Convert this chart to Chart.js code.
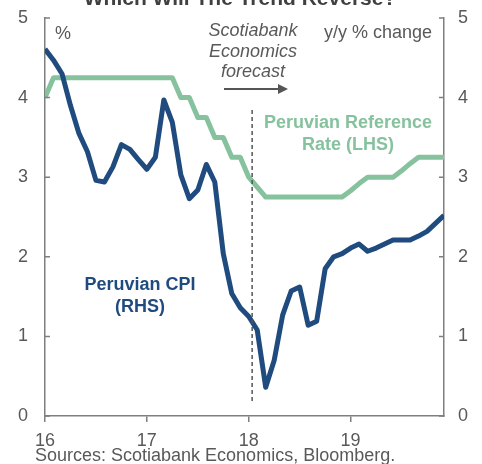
<!DOCTYPE html>
<html>
<head>
<meta charset="utf-8">
<script src="https://cdn.jsdelivr.net/npm/chart.js@4"></script>
<style>
 body { margin: 0; background: #fff; }
 canvas { display: block; }
</style>
</head>
<body>
<canvas id="myChart" width="482" height="464"></canvas>
<script>
// months since Jan 2016
var months = [0, 1, 2, 3, 4, 5, 6, 7, 8, 9, 10, 11,
              12, 13, 14, 15, 16, 17, 18, 19, 20, 21, 22, 23,
              24, 25, 26, 27, 28, 29, 30, 31, 32, 33, 34, 35,
              36, 37, 38, 39, 40, 41, 42, 43, 44, 45, 46, 47];

var refRate = [4.00, 4.25, 4.25, 4.25, 4.25, 4.25, 4.25, 4.25, 4.25, 4.25, 4.25, 4.25,
               4.25, 4.25, 4.25, 4.25, 4.00, 4.00, 3.75, 3.75, 3.50, 3.50, 3.25, 3.25,
               3.00, 2.875, 2.75, 2.75, 2.75, 2.75, 2.75, 2.75, 2.75, 2.75, 2.75, 2.75,
               2.83, 2.92, 3.00, 3.00, 3.00, 3.00, 3.08, 3.17, 3.25, 3.25, 3.25, 3.25];

var cpi = [4.61, 4.47, 4.30, 3.90, 3.55, 3.32, 2.96, 2.94, 3.13, 3.41, 3.35, 3.22,
           3.10, 3.25, 3.97, 3.69, 3.03, 2.73, 2.84, 3.16, 2.94, 2.04, 1.54, 1.36,
           1.25, 1.08, 0.36, 0.70, 1.27, 1.57, 1.62, 1.14, 1.19, 1.85, 2.00, 2.04,
           2.11, 2.16, 2.07, 2.11, 2.16, 2.21, 2.21, 2.21, 2.26, 2.32, 2.42, 2.52];

var xTickPos = [0, 12, 24, 36];
var xTickLabels = ['16', '17', '18', '19'];
var yTicks = [0, 1, 2, 3, 4, 5];
var forecastStart = 24.4;

var axisGrey = '#7f7f7f';
var textGrey = '#595959';
var blue = '#1f4b7e';
var green = '#86c29e';

function pts(ys) {
  return months.map(function (m, i) { return { x: m, y: ys[i] }; });
}

// y axes: fixed width, no extra vertical padding from label padding
function fitY(w) {
  return function (s) {
    s.width = w;
    s.paddingTop = 0;
    s.paddingBottom = 0;
  };
}

var extras = {
  id: 'extras',
  afterDraw: function (chart) {
    var ctx = chart.ctx;
    var xs = chart.scales.x, yl = chart.scales.y;
    var a = chart.chartArea;
    ctx.save();

    // inward ticks on both value axes
    ctx.strokeStyle = axisGrey;
    ctx.lineWidth = 1.5;
    yTicks.forEach(function (v) {
      var py = yl.getPixelForValue(v);
      ctx.beginPath();
      ctx.moveTo(a.left, py); ctx.lineTo(a.left + 5, py);
      ctx.moveTo(a.right, py); ctx.lineTo(a.right - 5, py);
      ctx.stroke();
    });

    // forecast divider
    var fx = xs.getPixelForValue(forecastStart);
    ctx.strokeStyle = '#555';
    ctx.lineWidth = 1.5;
    ctx.setLineDash([4, 3]);
    ctx.beginPath();
    ctx.moveTo(fx, 110); ctx.lineTo(fx, 402);
    ctx.stroke();
    ctx.setLineDash([]);

    // arrow
    ctx.strokeStyle = '#555';
    ctx.fillStyle = '#555';
    ctx.lineWidth = 2;
    ctx.beginPath();
    ctx.moveTo(224, 89); ctx.lineTo(280, 89);
    ctx.stroke();
    ctx.beginPath();
    ctx.moveTo(288, 89); ctx.lineTo(278, 84); ctx.lineTo(278, 94);
    ctx.closePath(); ctx.fill();

    ctx.textAlign = 'center';

    // title (cut at top)
    ctx.fillStyle = '#404040';
    ctx.font = 'bold 21px "Liberation Sans", Arial, sans-serif';
    ctx.textBaseline = 'alphabetic';
    ctx.fillText('Which Will The Trend Reverse?', 240, 5);
    ctx.textBaseline = 'middle';

    ctx.fillStyle = textGrey;
    ctx.font = 'italic 18px "Liberation Sans", Arial, sans-serif';
    ctx.fillText('Scotiabank', 253, 31);
    ctx.fillText('Economics', 253, 52);
    ctx.fillText('forecast', 253, 72);

    ctx.font = '18px "Liberation Sans", Arial, sans-serif';
    ctx.textAlign = 'left';
    ctx.fillText('%', 55, 34);
    ctx.textAlign = 'right';
    ctx.fillText('y/y % change', 432, 33);

    ctx.textAlign = 'center';
    ctx.fillStyle = green;
    ctx.font = 'bold 18px "Liberation Sans", Arial, sans-serif';
    ctx.fillText('Peruvian Reference', 348, 123);
    ctx.fillText('Rate (LHS)', 348, 145);

    ctx.fillStyle = blue;
    ctx.fillText('Peruvian CPI', 140, 285);
    ctx.fillText('(RHS)', 140, 307);

    ctx.fillStyle = textGrey;
    ctx.font = '18px "Liberation Sans", Arial, sans-serif';
    ctx.textAlign = 'left';
    ctx.textBaseline = 'alphabetic';
    ctx.fillText('Sources: Scotiabank Economics, Bloomberg.', 35, 461);

    ctx.restore();
  }
};

var ctx = document.getElementById('myChart').getContext('2d');
var chart = new Chart(ctx, {
  type: 'line',
  data: {
    datasets: [{
      label: 'Peruvian CPI (RHS)',
      data: pts(cpi),
      yAxisID: 'y1',
      borderColor: blue,
      borderWidth: 5,
      pointRadius: 0,
      tension: 0,
      borderJoinStyle: 'round',
      order: 0
    }, {
      label: 'Peruvian Reference Rate (LHS)',
      data: pts(refRate),
      yAxisID: 'y',
      borderColor: green,
      borderWidth: 5,
      pointRadius: 0,
      tension: 0,
      borderJoinStyle: 'round',
      order: 1
    }]
  },
  options: {
    responsive: false,
    animation: false,
    devicePixelRatio: 1,
    layout: { padding: { top: 18, left: 0, right: 0, bottom: 0 } },
    plugins: { legend: { display: false }, tooltip: { enabled: false }, title: { display: false } },
    scales: {
      x: {
        type: 'linear',
        min: 0, max: 47,
        afterBuildTicks: function (s) { s.ticks = xTickPos.map(function (v) { return { value: v }; }); },
        afterFit: function (s) { s.height = 48; },
        ticks: {
          autoSkip: false, maxRotation: 0,
          padding: 8,
          color: textGrey,
          font: { family: '"Liberation Sans", Arial, sans-serif', size: 18 },
          callback: function (v, i) { return xTickLabels[i]; }
        },
        grid: { drawOnChartArea: false, tickLength: 6, color: axisGrey, lineWidth: 1.5 },
        border: { color: axisGrey, width: 1.5 }
      },
      y: {
        position: 'left',
        min: 0, max: 5,
        afterBuildTicks: function (s) { s.ticks = yTicks.map(function (v) { return { value: v }; }); },
        afterFit: fitY(45),
        ticks: {
          padding: 17,
          color: textGrey,
          font: { family: '"Liberation Sans", Arial, sans-serif', size: 18 }
        },
        grid: { drawOnChartArea: false, drawTicks: false },
        border: { color: axisGrey, width: 1.5 }
      },
      y1: {
        position: 'right',
        min: 0, max: 5,
        afterBuildTicks: function (s) { s.ticks = yTicks.map(function (v) { return { value: v }; }); },
        afterFit: fitY(38),
        ticks: {
          padding: 14,
          color: textGrey,
          font: { family: '"Liberation Sans", Arial, sans-serif', size: 18 }
        },
        grid: { drawOnChartArea: false, drawTicks: false },
        border: { color: axisGrey, width: 1.5 }
      }
    }
  },
  plugins: [extras]
});
</script>
</body>
</html>
